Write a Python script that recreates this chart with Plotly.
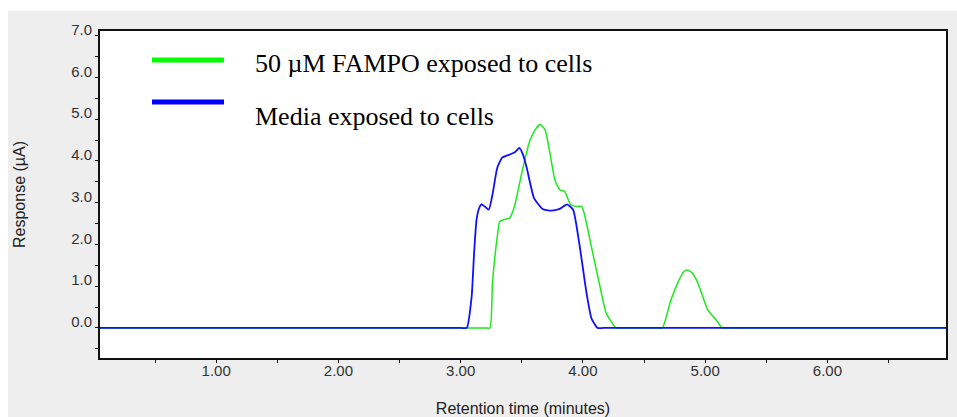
import plotly.graph_objects as go

# ---- data ----
blue_x = [0.05, 3.00, 3.05, 3.09, 3.11, 3.13, 3.15, 3.17, 3.20, 3.23, 3.26, 3.30, 3.34, 3.38, 3.44, 3.48,
          3.51, 3.54, 3.60, 3.67, 3.74, 3.81, 3.87, 3.92, 3.97, 4.03, 4.07, 4.12, 4.17, 6.97]
blue_y = [0.0, 0.0, 0.0, 0.75, 1.80, 2.59, 2.86, 2.96, 2.90, 2.83, 3.19, 3.84, 4.08, 4.13, 4.20, 4.31,
          4.15, 3.84, 3.11, 2.85, 2.81, 2.85, 2.96, 2.83, 2.03, 0.83, 0.23, 0.0, 0.0, 0.0]

green_x = [0.05, 3.20, 3.24, 3.26, 3.30, 3.32, 3.36, 3.40, 3.44, 3.50, 3.56, 3.61, 3.65, 3.69, 3.73, 3.77,
           3.81, 3.85, 3.90, 3.95, 3.99, 4.01, 4.08, 4.14, 4.19, 4.27, 4.32, 4.60, 4.65, 4.72, 4.78, 4.82,
           4.85, 4.89, 4.94, 5.02, 5.09, 5.14, 5.19, 6.97]
green_y = [0.0, 0.0, 0.0, 1.08, 2.19, 2.55, 2.60, 2.63, 2.91, 3.71, 4.43, 4.75, 4.87, 4.75, 4.19, 3.55,
           3.31, 3.27, 2.95, 2.91, 2.91, 2.75, 1.80, 0.99, 0.36, 0.0, 0.0, 0.0, 0.0, 0.67, 1.11, 1.33,
           1.39, 1.33, 1.08, 0.44, 0.19, 0.0, 0.0, 0.0]

series_names = ["50 \u00b5M FAMPO exposed to cells", "Media exposed to cells"]
x_title = "Retention time (minutes)"
y_title = "Response (\u00b5A)"

# ---- figure ----
W, H = 957, 417
L, R, T, B = 100, 11, 31, 59
pw, ph = W - L - R, H - T - B


def px(xp):
    return (xp - L) / pw


def py(yp):
    return (H - B - yp) / ph


fig = go.Figure()
fig.add_trace(go.Scatter(x=green_x, y=green_y, mode="lines", name=series_names[0],
                         line=dict(color="#1ee81e", width=1.5, shape="spline", smoothing=0.5),
                         showlegend=False))
fig.add_trace(go.Scatter(x=blue_x, y=blue_y, mode="lines", name=series_names[1],
                         line=dict(color="#1010ff", width=1.8, shape="spline", smoothing=0.5),
                         showlegend=False))

shapes = [
    # white strips at the very top and left edge of the gray panel
    dict(type="rect", xref="paper", yref="paper", x0=px(-5), x1=px(W + 5), y0=py(11), y1=py(-5),
         fillcolor="white", line=dict(width=0), layer="below"),
    dict(type="rect", xref="paper", yref="paper", x0=px(-5), x1=px(8), y0=py(H + 5), y1=py(-5),
         fillcolor="white", line=dict(width=0), layer="below"),
    dict(type="line", xref="paper", yref="paper", x0=px(152), x1=px(224), y0=py(60), y1=py(60),
         line=dict(color="#00ff00", width=5)),
    dict(type="line", xref="paper", yref="paper", x0=px(152), x1=px(224), y0=py(102), y1=py(102),
         line=dict(color="#0000ff", width=5)),
]

legend_font = dict(family="Liberation Serif", size=26, color="#000")
annotations = [
    dict(text=series_names[0], xref="paper", yref="paper", x=px(253), y=py(63), xanchor="left",
         yanchor="middle", showarrow=False, font=legend_font),
    dict(text=series_names[1], xref="paper", yref="paper", x=px(253), y=py(116), xanchor="left",
         yanchor="middle", showarrow=False, font=legend_font),
]

tickfont = dict(family="Liberation Sans", size=15, color="#333333")

fig.update_layout(
    width=W, height=H,
    margin=dict(l=L, r=R, t=T, b=B, pad=0),
    paper_bgcolor="#eeeeee",
    plot_bgcolor="white",
    shapes=shapes,
    annotations=annotations,
    showlegend=False,
    xaxis=dict(
        range=[0.05, 6.97], tickmode="linear", tick0=1, dtick=1, tickformat=".2f",
        showgrid=False, zeroline=False, showline=True, linecolor="#111", linewidth=2, mirror=True,
        ticks="outside", ticklen=3, tickcolor="#111", tickfont=tickfont, ticklabelstandoff=-5,
        minor=dict(dtick=0.5, tick0=0, ticks="outside", ticklen=3, tickcolor="#111", showgrid=False),
        title=dict(text=x_title, font=dict(family="Liberation Sans", size=16, color="#222"), standoff=32),
        automargin=False,
    ),
    yaxis=dict(
        range=[-0.72, 7.11], tickmode="linear", tick0=0, dtick=1, tickformat=".1f",
        showgrid=False, zeroline=False, showline=True, linecolor="#111", linewidth=2, mirror=True,
        ticks="outside", ticklen=3, tickcolor="#111", tickfont=tickfont,
        ticklabelshift=-6, ticklabelstandoff=0,
        minor=dict(dtick=0.5, tick0=0, ticks="outside", ticklen=3, tickcolor="#111", showgrid=False),
        title=dict(text=y_title, font=dict(family="Liberation Sans", size=16, color="#222"), standoff=42),
        automargin=False,
    ),
)

fig.write_html("out.html")
